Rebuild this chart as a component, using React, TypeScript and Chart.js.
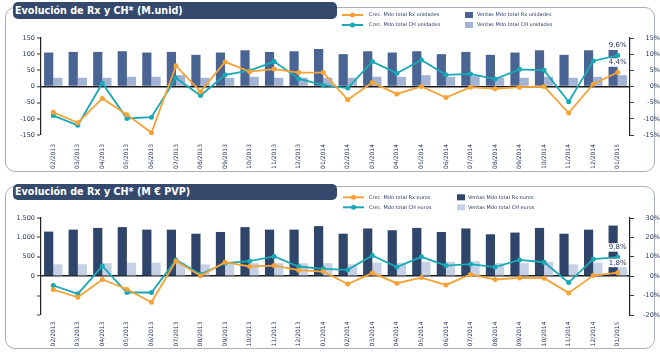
import React, { useEffect, useRef } from 'react';
import { Chart, registerables } from 'chart.js';
Chart.register(...registerables);

const months = ['02/2013','03/2013','04/2013','05/2013','06/2013','07/2013','08/2013','09/2013','10/2013','11/2013','12/2013','01/2014','02/2014','03/2014','04/2014','05/2014','06/2014','07/2014','08/2014','09/2014','10/2014','11/2014','12/2014','01/2015'];

// Chart 1: units (M.unid)
const unitsRxSales = [105,107,107,109,105,107,98,105,112,107,109,116,100,109,105,109,100,107,98,105,112,98,112,114];
const unitsChSales = [27,27,27,30,30,35,27,27,30,27,27,27,27,30,30,35,30,33,27,27,30,27,30,35];
const unitsRxGrowth = [-8.0,-11.2,-3.7,-8.7,-14.3,6.4,-1.6,7.6,4.6,5.4,4.3,4.3,-4.1,1.2,-2.3,0.0,-3.4,-0.2,-0.7,-0.2,0.0,-8.2,0.7,4.4];
const unitsChGrowth = [-9.0,-12.0,1.0,-9.9,-9.5,2.6,-2.8,3.6,4.9,7.7,2.4,0.4,-0.5,7.7,4.1,8.2,3.6,3.9,2.3,5.3,5.0,-4.7,7.9,9.6];

// Chart 2: euros (M € PVP)
const eurosRxSales = [1150,1200,1245,1265,1200,1200,1095,1140,1265,1200,1200,1290,1095,1230,1185,1245,1140,1230,1080,1125,1245,1095,1200,1305];
const eurosChSales = [305,305,335,350,350,350,305,335,335,335,335,335,305,350,350,370,370,385,335,335,370,305,350,330];
const eurosRxGrowth = [-6.9,-10.9,-1.7,-6.7,-13.4,7.8,0.2,7.2,5.0,5.5,3.1,2.4,-4.0,1.6,-3.6,-0.7,-4.5,0.9,-1.7,-0.9,-1.0,-8.6,0.3,1.8];
const eurosChGrowth = [-4.8,-9.1,5.2,-8.4,-8.4,8.4,1.0,6.7,7.8,10.2,5.0,3.8,3.3,10.7,4.7,10.0,5.5,6.2,4.7,8.4,7.2,-3.3,8.8,9.8];

const ORANGE = '#f5a236';
const TEAL = '#19a8b5';
const NAVY_TEXT = '#27375f';
const FONT = 'DejaVu Sans';

function fmtThousands(v: number): string {
  const s = String(Math.abs(v));
  const out = s.replace(/\B(?=(\d{3})+(?!\d))/g, '.');
  return (v < 0 ? '-' : '') + out;
}

const lastLabelPlugin = {
  id: 'lastLabel',
  afterDatasetsDraw(chart: any) {
    const ctx = chart.ctx;
    ctx.save();
    ctx.font = `7px "${FONT}"`;
    ctx.textAlign = 'center';
    ctx.textBaseline = 'middle';
    chart.data.datasets.forEach((ds: any, i: number) => {
      if (ds.type !== 'line') return;
      const meta = chart.getDatasetMeta(i);
      const n = ds.data.length - 1;
      const pt = meta.data[n];
      const txt = ds.data[n].toFixed(1).replace('.', ',') + '%';
      const w = ctx.measureText(txt).width;
      const y = pt.y - 10;
      ctx.fillStyle = '#ffffff';
      ctx.fillRect(pt.x - w / 2 - 1, y - 4, w + 2, 8.5);
      ctx.fillStyle = NAVY_TEXT;
      ctx.fillText(txt, pt.x, y);
    });
    ctx.restore();
  },
};

const legendPlugin = {
  id: 'customLegend',
  afterDraw(chart: any, _args: any, opts: any) {
    const ctx = chart.ctx;
    ctx.save();
    ctx.font = `5px "${FONT}"`;
    ctx.textBaseline = 'middle';
    ctx.textAlign = 'left';
    const dsets = chart.data.datasets;
    const lines = dsets.filter((d: any) => d.type === 'line');
    const bars = dsets.filter((d: any) => d.type === 'bar');
    lines.forEach((d: any, k: number) => {
      const y = opts.rows[k];
      const x0 = opts.lineX;
      ctx.strokeStyle = d.borderColor;
      ctx.lineWidth = 2;
      ctx.beginPath();
      ctx.moveTo(x0, y);
      ctx.lineTo(x0 + 21, y);
      ctx.stroke();
      ctx.fillStyle = d.borderColor;
      ctx.beginPath();
      ctx.arc(x0 + 10.5, y, 2.5, 0, Math.PI * 2);
      ctx.fill();
      ctx.fillStyle = NAVY_TEXT;
      ctx.fillText(d.label, opts.lineTextX, y);
    });
    bars.forEach((d: any, k: number) => {
      const y = opts.rows[k];
      ctx.fillStyle = d.backgroundColor;
      ctx.fillRect(opts.barX, y - 3, 8, 6);
      ctx.fillStyle = NAVY_TEXT;
      ctx.fillText(d.label, opts.barTextX, y);
    });
    ctx.restore();
  },
};

type Cfg = {
  rxGrowth: number[]; chGrowth: number[]; rxSales: number[]; chSales: number[];
  labels: string[]; darkBar: string; lightBar: string;
  leftMin: number; leftMax: number; leftStep: number; leftFmt: (v: number) => string;
  rightMin: number; rightMax: number; rightStep: number;
  xPad: number; legend: any;
};

function buildChart(canvas: HTMLCanvasElement, c: Cfg) {
  const tickFont = { family: FONT, size: 6.5 };
  return new Chart(canvas, {
    data: {
      labels: months,
      datasets: [
        { type: 'line', label: c.labels[0], data: c.rxGrowth, yAxisID: 'y1', borderColor: ORANGE, backgroundColor: ORANGE, borderWidth: 1.8, pointRadius: 2.5, pointBackgroundColor: ORANGE, pointBorderWidth: 0, tension: 0, order: 0 } as any,
        { type: 'line', label: c.labels[1], data: c.chGrowth, yAxisID: 'y1', borderColor: TEAL, backgroundColor: TEAL, borderWidth: 1.8, pointRadius: 2.5, pointBackgroundColor: TEAL, pointBorderWidth: 0, tension: 0, order: 0 } as any,
        { type: 'bar', label: c.labels[2], data: c.rxSales, yAxisID: 'y', backgroundColor: c.darkBar, borderWidth: 0, categoryPercentage: 0.75, barPercentage: 1, order: 1 } as any,
        { type: 'bar', label: c.labels[3], data: c.chSales, yAxisID: 'y', backgroundColor: c.lightBar, borderWidth: 0, categoryPercentage: 0.75, barPercentage: 1, order: 1 } as any,
      ],
    },
    options: {
      responsive: false,
      animation: false,
      devicePixelRatio: 1,
      layout: { padding: { top: 38, left: 0, right: 0, bottom: 0 } },
      plugins: { legend: { display: false }, tooltip: { enabled: false }, customLegend: c.legend } as any,
      scales: {
        x: {
          offset: true,
          grid: { display: false, drawTicks: false, tickLength: 0 },
          border: { display: false },
          ticks: { autoSkip: false, maxRotation: 90, minRotation: 90, font: { family: FONT, size: 6 }, color: NAVY_TEXT, padding: c.xPad },
          afterFit: (s: any) => { s.height = 45; },
        },
        y: {
          position: 'left',
          min: c.leftMin, max: c.leftMax,
          ticks: { stepSize: c.leftStep, font: tickFont, color: NAVY_TEXT, padding: 2, callback: (v: any) => c.leftFmt(Number(v)) },
          grid: {
            drawOnChartArea: true,
            color: (ctx: any) => (ctx.tick && ctx.tick.value === 0 ? '#1a1a1a' : 'rgba(0,0,0,0)'),
            lineWidth: (ctx: any) => (ctx.tick && ctx.tick.value === 0 ? 1.5 : 0),
            tickColor: '#333', tickWidth: 1, tickLength: 4,
          },
          border: { display: true, color: '#222', width: 1.2 },
          afterFit: (s: any) => { s.width = 41; },
        },
        y1: {
          position: 'right',
          min: c.rightMin, max: c.rightMax,
          ticks: { stepSize: c.rightStep, font: tickFont, color: NAVY_TEXT, padding: 1, crossAlign: 'far', callback: (v: any) => `${v}%` },
          grid: { drawOnChartArea: false, tickColor: '#333', tickWidth: 1, tickLength: 4 },
          border: { display: true, color: '#222', width: 1.2 },
          afterFit: (s: any) => { s.width = 30; },
        },
      },
    } as any,
    plugins: [lastLabelPlugin, legendPlugin],
  });
}

export default function App() {
  const c1 = useRef<HTMLCanvasElement>(null);
  const c2 = useRef<HTMLCanvasElement>(null);
  useEffect(() => {
    const a = buildChart(c1.current!, {
      rxGrowth: unitsRxGrowth, chGrowth: unitsChGrowth, rxSales: unitsRxSales, chSales: unitsChSales,
      labels: ['Crec. Mdo total Rx unidades', 'Crec. Mdo total CH unidades', 'Ventas Mdo total Rx unidades', 'Ventas Mdo total CH unidades'],
      darkBar: '#4a6494', lightBar: '#a3b3d3',
      leftMin: -150, leftMax: 150, leftStep: 50, leftFmt: (v) => String(v),
      rightMin: -15, rightMax: 15, rightStep: 5, xPad: 9,
      legend: { rows: [15, 25], lineX: 342, lineTextX: 369, barX: 465, barTextX: 477 },
    });
    const b = buildChart(c2.current!, {
      rxGrowth: eurosRxGrowth, chGrowth: eurosChGrowth, rxSales: eurosRxSales, chSales: eurosChSales,
      labels: ['Crec. Mdo total Rx euros', 'Crec. Mdo total CH euros', 'Ventas Mdo total Rx euros', 'Ventas Mdo total CH euros'],
      darkBar: '#2f4569', lightBar: '#c6d1e5',
      leftMin: -1000, leftMax: 1500, leftStep: 500, leftFmt: (v) => (v < 0 ? '' : fmtThousands(v)),
      rightMin: -20, rightMax: 30, rightStep: 5, xPad: 6.5,
      legend: { rows: [17.3, 27.3], lineX: 343, lineTextX: 369, barX: 457, barTextX: 468 },
    });
    return () => { a.destroy(); b.destroy(); };
  }, []);

  const frame: React.CSSProperties = { position: 'absolute', left: 5, width: 650, border: '1.5px solid #aab0bc', borderRadius: 10, boxSizing: 'border-box' };
  const tab: React.CSSProperties = { position: 'absolute', left: 13, width: 324, background: '#34496c', borderRadius: 5, color: '#fff', fontWeight: 'bold', fontSize: 9.6, fontFamily: FONT, paddingLeft: 2, boxSizing: 'border-box', whiteSpace: 'nowrap' };

  return (
    <div style={{ position: 'absolute', left: 0, top: 0, width: 660, height: 355, background: '#fff', overflow: 'hidden' }}>
      <div style={{ ...frame, top: 7, height: 165 }} />
      <div style={{ ...tab, top: 2, height: 17, lineHeight: '17px' }}>Evolución de Rx y CH* (M.unid)</div>
      <canvas ref={c1} width={660} height={180} style={{ position: 'absolute', left: 0, top: 0 }} />
      <div style={{ ...frame, top: 186, height: 163 }} />
      <div style={{ ...tab, top: 184, height: 16, lineHeight: '16px' }}>Evolución de Rx y CH* (M € PVP)</div>
      <canvas ref={c2} width={660} height={180} style={{ position: 'absolute', left: 0, top: 180 }} />
    </div>
  );
}
